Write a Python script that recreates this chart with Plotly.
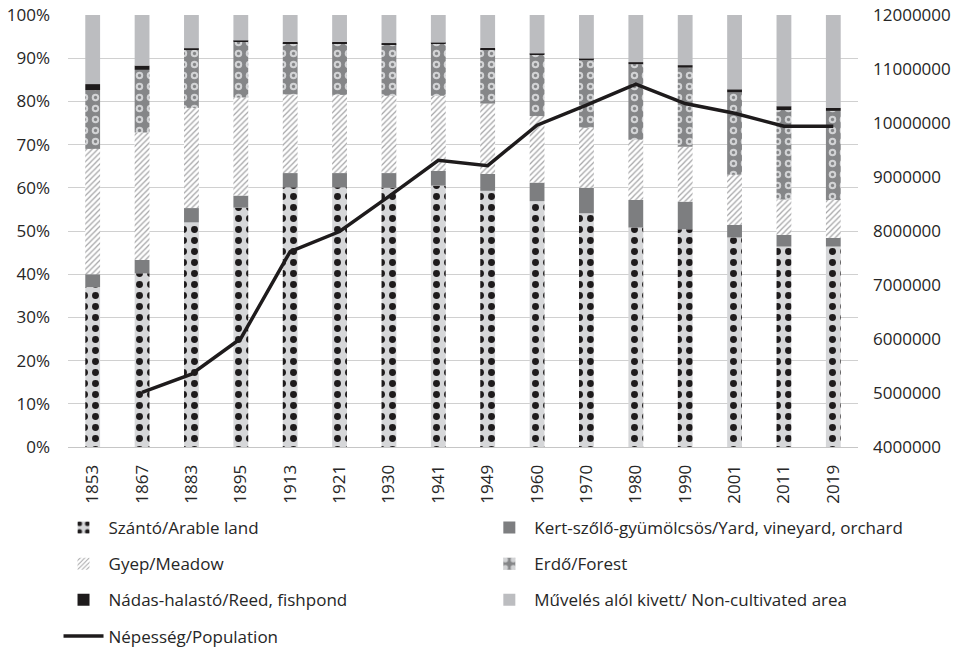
import numpy as np
import plotly.graph_objects as go

years = ['1853', '1867', '1883', '1895', '1913', '1921', '1930', '1941',
         '1949', '1960', '1970', '1980', '1990', '2001', '2011', '2019']
arable = [37.0, 40.2, 52.0, 55.4, 60.1, 60.1, 60.0, 60.5, 59.3, 56.9, 54.1, 50.8, 50.4, 48.5, 46.4, 46.4]
orchard = [3.0, 3.1, 3.3, 2.8, 3.3, 3.3, 3.4, 3.4, 3.9, 4.3, 5.9, 6.4, 6.4, 2.9, 2.7, 2.0]
meadow = [29.0, 29.5, 23.2, 22.7, 18.2, 18.1, 17.9, 17.4, 16.3, 15.4, 13.9, 13.9, 12.7, 11.6, 8.2, 8.8]
forest = [13.6, 14.5, 13.4, 12.9, 11.9, 12.0, 11.9, 12.0, 12.6, 14.2, 15.7, 17.5, 18.3, 19.1, 20.7, 20.6]
reed = [1.4, 1.0, 0.4, 0.3, 0.3, 0.3, 0.3, 0.3, 0.3, 0.3, 0.3, 0.5, 0.6, 0.7, 0.9, 0.7]
noncult = [16.0, 11.7, 7.7, 5.9, 6.2, 6.2, 6.5, 6.4, 7.6, 8.9, 10.1, 10.9, 11.6, 17.2, 21.1, 21.5]
population = [None, 5010000, 5350000, 6010000, 7620000, 7990000, 8640000, 9310000,
              9210000, 9960000, 10330000, 10720000, 10360000, 10180000, 9940000, 9940000]

names = ['Szántó/Arable land', 'Kert-szőlő-gyümölcsös/Yard, vineyard, orchard',
         'Gyep/Meadow', 'Erdő/Forest', 'Nádas-halastó/Reed, fishpond',
         'Művelés alól kivett/ Non-cultivated area', 'Népesség/Population']

# stacking order bottom-to-top
stack_order = [arable, orchard, meadow, forest, reed, noncult]
cum = np.zeros(len(years))
bases = []
for s in stack_order:
    bases.append(cum.copy())
    cum = cum + np.array(s)

W = 0.3
fig = go.Figure()

fig.add_trace(go.Bar(x=years, y=arable, base=bases[0], width=W, name=names[0],
                     legend='legend', legendgroup='a',
                     marker=dict(color='#d6d7d9', line=dict(width=0),
                                 pattern=dict(shape='.', fgcolor='#1e1b1c', bgcolor='#d6d7d9',
                                              size=11, solidity=0.31, fillmode='replace'))))
fig.add_trace(go.Bar(x=years, y=orchard, base=bases[1], width=W, name=names[1],
                     legend='legend2', legendgroup='b',
                     marker=dict(color='#7d7e80', line=dict(width=0))))
fig.add_trace(go.Bar(x=years, y=meadow, base=bases[2], width=W, name=names[2],
                     legend='legend', legendgroup='c',
                     marker=dict(color='white', line=dict(width=0),
                                 pattern=dict(shape='/', fgcolor='#a3a3a5', bgcolor='white',
                                              size=4, solidity=0.3, fillmode='replace'))))
fig.add_trace(go.Bar(x=years, y=forest, base=bases[3], width=W, name=names[3],
                     legend='legend2', legendgroup='d',
                     marker=dict(color='#858688', line=dict(width=0),
                                 pattern=dict(shape='.', fgcolor='#d2d3d5', bgcolor='#858688',
                                              size=11, solidity=0.36, fillmode='replace'))))
fig.add_trace(go.Bar(x=years, y=forest, base=bases[3], width=W, showlegend=False,
                     hoverinfo='skip',
                     marker=dict(color='rgba(0,0,0,0)', line=dict(width=0),
                                 pattern=dict(shape='.', fgcolor='#858688', bgcolor='rgba(0,0,0,0)',
                                              size=11, solidity=0.07, fillmode='replace'))))
fig.add_trace(go.Bar(x=years, y=reed, base=bases[4], width=W, name=names[4],
                     legend='legend', legendgroup='e',
                     marker=dict(color='#1e1b1c', line=dict(width=0))))
fig.add_trace(go.Bar(x=years, y=noncult, base=bases[5], width=W, name=names[5],
                     legend='legend2', legendgroup='f',
                     marker=dict(color='#bcbdc0', line=dict(width=0))))
fig.add_trace(go.Scatter(x=years, y=population, yaxis='y2', mode='lines', name=names[6],
                         legend='legend', legendgroup='g', connectgaps=False,
                         line=dict(color='#1e1b1c', width=3.5)))

font_color = '#262626'
fig.update_layout(
    width=961, height=652,
    margin=dict(l=68, r=103, t=15, b=205, autoexpand=False),
    barmode='overlay',
    plot_bgcolor='white', paper_bgcolor='white',
    font=dict(family='Open Sans', size=17, color=font_color),
    xaxis=dict(type='category', tickangle=-90, showgrid=False, showline=True,
               linecolor='#c6c6c6', linewidth=1, ticks='', ticklabelstandoff=10,
               tickfont=dict(size=17), automargin=False),
    yaxis=dict(range=[0, 100], dtick=10, ticksuffix='%', showgrid=True,
               gridcolor='#d0d0d0', gridwidth=1, zeroline=False, ticks='',
               ticklabelstandoff=17, tickfont=dict(size=17), automargin=False),
    yaxis2=dict(overlaying='y', side='right', range=[4000000, 12000000], dtick=1000000,
                showgrid=False, zeroline=False, tickformat='d', ticks='',
                ticklabelstandoff=14, tickfont=dict(size=17), automargin=False),
    legend=dict(x=-0.012, y=-0.146, xanchor='left', yanchor='top',
                traceorder='grouped', tracegroupgap=11, itemwidth=40,
                bgcolor='rgba(0,0,0,0)', font=dict(size=17, color=font_color)),
    legend2=dict(x=0.527, y=-0.146, xanchor='left', yanchor='top',
                 traceorder='grouped', tracegroupgap=11, itemwidth=40,
                 bgcolor='rgba(0,0,0,0)', font=dict(size=17, color=font_color)),
)

fig.write_html('out.html', config={'displayModeBar': False},
               post_script="document.body.style.margin='0';document.body.style.padding='0';")
